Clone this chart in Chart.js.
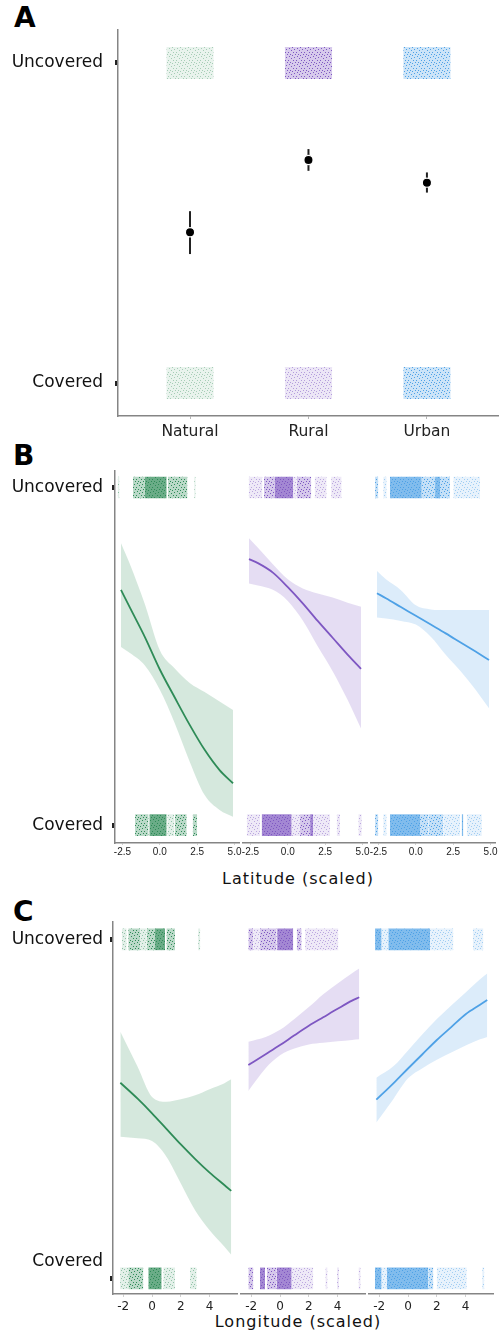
<!DOCTYPE html>
<html>
<head>
<meta charset="utf-8">
<script src="https://cdn.jsdelivr.net/npm/chart.js@4.4.1/dist/chart.umd.min.js"></script>
<style>
  html, body { margin: 0; background: #fff; }
  body { position: relative; width: 504px; height: 1333px; overflow: hidden; font-family: "DejaVu Sans", sans-serif; }
  canvas { position: absolute; }
  .tag { position: absolute; font: bold 28px/1 "DejaVu Sans", sans-serif; color: #000; }
  .title { position: absolute; font: 16px/1 "DejaVu Sans", sans-serif; letter-spacing: 1px; color: #111; white-space: nowrap; transform: translateX(-50%); }
</style>
</head>
<body>
<div class="tag" style="left:14px;top:4px">A</div>
<div class="tag" style="left:13px;top:442px">B</div>
<div class="tag" style="left:13px;top:898px">C</div>
<div class="title" style="left:298px;top:871px">Latitude (scaled)</div>
<div class="title" style="left:298px;top:1314px">Longitude (scaled)</div>
<script>
// ---- data ----
const habitats = ["Natural", "Rural", "Urban"];
const outcomes = ["Covered", "Uncovered"]; // outcome 0 / 1

// panel A: model estimate and interval per habitat
const coverEst = [0.471, 0.697, 0.626];
const coverLo = [0.403, 0.663, 0.595];
const coverHi = [0.537, 0.731, 0.658];
// how dense each jittered cloud looks (uncovered row, covered row)
const cloudTop = [0.19, 0.57, 0.53];
const cloudBottom = [0.19, 0.27, 0.53];

// panel B: latitude
const latX = [-2.6, -2, -1, 0, 1, 2, 3, 4, 4.9];
const latFitNatural = [0.697, 0.644, 0.557, 0.461, 0.378, 0.297, 0.223, 0.163, 0.124];
const latLowNatural = [0.528, 0.510, 0.473, 0.401, 0.302, 0.188, 0.089, 0.045, 0.025];
const latHighNatural = [0.835, 0.773, 0.654, 0.518, 0.464, 0.421, 0.394, 0.366, 0.341];
const latFitRural = [0.788, 0.776, 0.748, 0.705, 0.657, 0.605, 0.555, 0.505, 0.463];
const latLowRural = [0.716, 0.710, 0.697, 0.664, 0.606, 0.530, 0.456, 0.371, 0.286];
const latHighRural = [0.850, 0.822, 0.773, 0.728, 0.701, 0.686, 0.674, 0.659, 0.647];
const latFitUrban = [0.687, 0.672, 0.646, 0.620, 0.594, 0.568, 0.541, 0.514, 0.489];
const latLowUrban = [0.615, 0.612, 0.605, 0.594, 0.558, 0.505, 0.456, 0.401, 0.346];
const latHighUrban = [0.753, 0.728, 0.696, 0.651, 0.639, 0.637, 0.637, 0.637, 0.637];

// rug clouds: [from, to, density 1..3]; "1" = uncovered row, "0" = covered row
const latRugNatural1 = [[-2.82, -2.7, 1], [-1.8, -1.0, 2], [-1.0, 0.46, 3], [0.55, 1.85, 2], [2.3, 2.4, 1]];
const latRugNatural0 = [[-1.66, -0.75, 2], [-0.7, 0.46, 3], [0.5, 0.95, 1], [1.0, 1.8, 2], [2.2, 2.5, 2]];
const latRugRural1 = [[-2.62, -1.7, 1], [-1.6, -0.9, 2], [-0.9, 0.37, 3], [0.37, 0.6, 1], [0.6, 1.57, 2], [1.8, 2.6, 1], [2.9, 3.6, 1]];
const latRugRural0 = [[-2.75, -1.86, 1], [-1.75, 0.26, 3], [0.26, 0.82, 1], [0.82, 1.49, 2], [1.49, 1.71, 3], [1.71, 2.83, 1], [3.27, 3.5, 1], [4.72, 4.95, 1]];
const latRugUrban1 = [[-2.73, -2.51, 2], [-2.18, -1.95, 1], [-1.73, 0.4, 3], [0.4, 1.29, 2], [1.29, 1.62, 3], [1.62, 2.29, 2], [2.51, 4.3, 1]];
const latRugUrban0 = [[-2.73, -2.51, 2], [-2.18, -1.95, 1], [-1.73, 0.28, 3], [0.28, 0.84, 2], [0.84, 1.84, 2], [1.84, 2.96, 1], [3.07, 3.18, 3], [3.41, 4.42, 1]];

// panel C: longitude
const lonX = [-2.2, -1, 0, 1, 2, 3, 4, 5, 5.5];
const lonFitNatural = [0.577, 0.53, 0.487, 0.441, 0.395, 0.352, 0.312, 0.276, 0.258];
const lonLowNatural = [0.418, 0.413, 0.405, 0.359, 0.28, 0.2, 0.142, 0.095, 0.07];
const lonHighNatural = [0.727, 0.624, 0.535, 0.521, 0.528, 0.54, 0.558, 0.575, 0.587];
const lonFitRural = [0.629, 0.661, 0.688, 0.717, 0.745, 0.77, 0.795, 0.819, 0.829];
const lonLowRural = [0.553, 0.62, 0.658, 0.678, 0.69, 0.695, 0.699, 0.703, 0.705];
const lonHighRural = [0.698, 0.712, 0.733, 0.765, 0.8, 0.838, 0.87, 0.9, 0.914];
const lonFitUrban = [0.527, 0.576, 0.619, 0.661, 0.703, 0.741, 0.779, 0.807, 0.821];
const lonLowUrban = [0.46, 0.53, 0.59, 0.62, 0.645, 0.666, 0.687, 0.705, 0.712];
const lonHighUrban = [0.592, 0.626, 0.672, 0.72, 0.765, 0.805, 0.843, 0.882, 0.899];

const lonRugNatural1 = [[-2.1, -1.76, 1], [-1.65, -0.83, 2], [-0.83, -0.37, 1], [-0.37, 0.21, 2], [0.21, 0.9, 3], [1.0, 1.6, 2], [3.2, 3.35, 1]];
const lonRugNatural0 = [[-2.22, -1.65, 1], [-1.65, -0.6, 2], [-0.26, 0.67, 3], [0.78, 1.6, 1], [2.64, 3.1, 1]];
const lonRugRural1 = [[-2.2, -1.85, 2], [-1.85, -1.4, 1], [-1.39, -0.23, 2], [-0.2, 0.92, 3], [1.16, 1.5, 2], [1.74, 4.05, 1]];
const lonRugRural0 = [[-2.2, -1.85, 2], [-1.39, -1.04, 3], [-0.92, -0.23, 2], [-0.23, 0.81, 3], [0.81, 2.31, 1], [3.15, 3.3, 1], [3.95, 4.1, 1], [5.45, 5.6, 1]];
const lonRugUrban1 = [[-2.29, -1.83, 3], [-1.83, -1.37, 1], [-1.37, 1.53, 3], [1.53, 3.15, 1], [4.5, 5.23, 1]];
const lonRugUrban0 = [[-2.3, -1.83, 3], [-1.83, -1.48, 1], [-1.48, 1.41, 3], [1.41, 1.76, 2], [1.99, 4.08, 1], [5.15, 5.3, 1]];

// ---- styling ----
const RGB = { Natural: "46,139,87", Rural: "126,87,194", Urban: "78,161,230" };
const AXIS_GREY = "#858585";
const RUG_ALPHA = [0, 0.24, 0.6, 1.3];
const RUG_HALF = 0.032;
const CLOUD_HALF_W = 0.2;
const CLOUD_HALF_H = 0.05;
const TILE = 8;
const SPECKS = [[1, 0], [6, 1], [3, 2], [0, 4], [5, 4], [2, 6], [7, 6], [4, 7]];

Chart.defaults.font.family = "'DejaVu Sans', sans-serif";

function texture(ctx, rgb, a) {
  const tile = document.createElement("canvas");
  tile.width = tile.height = TILE;
  const g = tile.getContext("2d");
  g.fillStyle = `rgba(${rgb},${Math.min(1, a * 0.55)})`;
  g.fillRect(0, 0, TILE, TILE);
  g.fillStyle = `rgba(${rgb},${Math.min(1, a * 1.9)})`;
  SPECKS.forEach(([x, y]) => g.fillRect(x, y, 1, 1));
  return ctx.createPattern(tile, "repeat");
}

function outcomeTicks(coveredShift) {
  if (!coveredShift) {
    return outcomes.map((label, v) => ({ value: v, label, mark: true }));
  }
  return [
    { value: 0, label: "", mark: true },
    { value: coveredShift, label: outcomes[0], mark: false },
    { value: 1, label: outcomes[1], mark: true },
  ];
}

function panel(opt) {
  const a = opt.area;
  const s = opt.space;
  const cv = document.createElement("canvas");
  cv.width = a.r - a.l + s.l + s.r;
  cv.height = a.b - a.t + s.t + s.b;
  cv.style.left = a.l - s.l + "px";
  cv.style.top = a.t - s.t + "px";
  document.body.appendChild(cv);
  const ctx = cv.getContext("2d");
  const yTicks = opt.yTicks;

  new Chart(cv, {
    type: "line",
    data: { datasets: opt.build(ctx) },
    options: {
      responsive: false,
      animation: false,
      events: [],
      layout: { padding: { left: yTicks ? 0 : s.l, right: s.r, top: s.t, bottom: 0 } },
      plugins: { legend: { display: false }, tooltip: { enabled: false } },
      scales: {
        x: {
          type: "linear",
          min: opt.x.min,
          max: opt.x.max,
          afterFit(sc) { sc.height = s.b; },
          afterBuildTicks(sc) { sc.ticks = opt.x.ticks.map((v) => ({ value: v })); },
          ticks: {
            callback: opt.x.format,
            font: opt.x.font,
            color: "#222",
            padding: opt.x.pad,
            maxRotation: 0,
            autoSkip: false,
          },
          grid: { drawOnChartArea: false, tickLength: opt.x.tick, tickColor: opt.x.tickColor },
          border: { color: AXIS_GREY, width: 1.5 },
        },
        y: {
          type: "linear",
          min: opt.y.min,
          max: opt.y.max,
          display: !!yTicks,
          afterFit(sc) { if (yTicks) sc.width = s.l; },
          afterBuildTicks(sc) { if (yTicks) sc.ticks = yTicks.map((t) => ({ value: t.value })); },
          ticks: {
            callback: (v, i) => (yTicks ? yTicks[i].label : ""),
            font: { size: 17 },
            color: "#111",
            padding: opt.y.pad,
            autoSkip: false,
          },
          grid: {
            drawOnChartArea: false,
            tickLength: 3,
            tickWidth: 5,
            tickColor: (c) => (yTicks && yTicks[c.index] && yTicks[c.index].mark ? "#222" : "rgba(0,0,0,0)"),
          },
          border: { color: AXIS_GREY, width: 1.5 },
        },
      },
    },
  });
}

function rugSets(ctx, segs, centre, rgb) {
  return segs.map(([x0, x1, lvl]) => ({
    data: [{ x: x0, y: centre + RUG_HALF }, { x: x1, y: centre + RUG_HALF }],
    borderColor: "rgba(0,0,0,0)",
    borderWidth: 0,
    pointRadius: 0,
    backgroundColor: texture(ctx, rgb, RUG_ALPHA[lvl]),
    fill: { value: centre - RUG_HALF },
    order: 3,
  }));
}

function curveSets(xs, fit, low, high, rgb) {
  const pts = (ys) => xs.map((x, i) => ({ x, y: ys[i] }));
  return [
    { data: pts(fit), borderColor: `rgb(${rgb})`, borderWidth: 1.8, pointRadius: 0, fill: false, cubicInterpolationMode: "monotone", order: 0 },
    { data: pts(high), borderColor: "rgba(0,0,0,0)", borderWidth: 0, pointRadius: 0, backgroundColor: `rgba(${rgb},0.2)`, fill: "+1", cubicInterpolationMode: "monotone", order: 1 },
    { data: pts(low), borderColor: "rgba(0,0,0,0)", borderWidth: 0, pointRadius: 0, fill: false, cubicInterpolationMode: "monotone", order: 2 },
  ];
}

// ---- panel A ----
panel({
  area: { l: 118, t: 30, r: 498, b: 416 },
  space: { l: 118, r: 6, t: 30, b: 34 },
  x: {
    min: -0.608, max: 2.6, ticks: [0, 1, 2],
    format: (v) => habitats[v] || "",
    font: { size: 15.5 }, pad: 4, tick: 3, tickColor: "#b5b5b5",
  },
  y: { min: -0.103, max: 1.103, pad: 12 },
  yTicks: outcomeTicks(0),
  build: (ctx) => {
    const sets = [];
    habitats.forEach((h, i) => {
      [[1, cloudTop[i]], [0, cloudBottom[i]]].forEach(([o, dens]) => {
        sets.push({
          data: [{ x: i - CLOUD_HALF_W, y: o + CLOUD_HALF_H }, { x: i + CLOUD_HALF_W, y: o + CLOUD_HALF_H }],
          borderColor: "rgba(0,0,0,0)", borderWidth: 0, pointRadius: 0,
          backgroundColor: texture(ctx, RGB[h], dens),
          fill: { value: o - CLOUD_HALF_H },
          order: 3,
        });
      });
      sets.push({
        data: [{ x: i, y: coverLo[i] }, { x: i, y: coverHi[i] }],
        borderColor: "#222", borderWidth: 2, pointRadius: 0, fill: false, order: 1,
      });
    });
    sets.push({
      data: coverEst.map((y, i) => ({ x: i, y })),
      showLine: false, pointRadius: 4.6, pointBackgroundColor: "#000",
      pointBorderColor: "#fff", pointBorderWidth: 1.2, order: 0,
    });
    return sets;
  },
});

// ---- panels B and C ----
const latAxis = {
  min: -3.0, max: 5.3, ticks: [-2.5, 0, 2.5, 5],
  format: (v) => Number(v).toFixed(1),
  font: { family: "'Liberation Sans', sans-serif", size: 10 }, pad: 1, tick: 2, tickColor: "#d0d0d0",
};
const lonAxis = {
  min: -2.71, max: 5.9, ticks: [-2, 0, 2, 4],
  format: (v) => String(v),
  font: { size: 12 }, pad: 3, tick: 3, tickColor: "#d0d0d0",
};

const latPanels = [
  ["Natural", latFitNatural, latLowNatural, latHighNatural, latRugNatural1, latRugNatural0],
  ["Rural", latFitRural, latLowRural, latHighRural, latRugRural1, latRugRural0],
  ["Urban", latFitUrban, latLowUrban, latHighUrban, latRugUrban1, latRugUrban0],
];
const lonPanels = [
  ["Natural", lonFitNatural, lonLowNatural, lonHighNatural, lonRugNatural1, lonRugNatural0],
  ["Rural", lonFitRural, lonLowRural, lonHighRural, lonRugRural1, lonRugRural0],
  ["Urban", lonFitUrban, lonLowUrban, lonHighUrban, lonRugUrban1, lonRugUrban0],
];

const latLeft = [115, 243, 371];
latPanels.forEach(([h, fit, lo, hi, rug1, rug0], k) => {
  panel({
    area: { l: latLeft[k], t: 471, r: latLeft[k] + 124, b: 843 },
    space: { l: k === 0 ? 115 : 16, r: 12, t: 20, b: 28 },
    x: latAxis,
    y: { min: -0.053, max: 1.049, pad: 9 },
    yTicks: k === 0 ? outcomeTicks(0) : null,
    build: (ctx) => [
      ...curveSets(latX, fit, lo, hi, RGB[h]),
      ...rugSets(ctx, rug1, 1, RGB[h]),
      ...rugSets(ctx, rug0, 0, RGB[h]),
    ],
  });
});

const lonLeft = [113, 241, 369];
lonPanels.forEach(([h, fit, lo, hi, rug1, rug0], k) => {
  panel({
    area: { l: lonLeft[k], t: 922, r: lonLeft[k] + 124, b: 1294 },
    space: { l: k === 0 ? 113 : 16, r: 12, t: 20, b: 30 },
    x: lonAxis,
    y: { min: -0.046, max: 1.051, pad: 7 },
    yTicks: k === 0 ? outcomeTicks(0.049) : null,
    build: (ctx) => [
      ...curveSets(lonX, fit, lo, hi, RGB[h]),
      ...rugSets(ctx, rug1, 1, RGB[h]),
      ...rugSets(ctx, rug0, 0, RGB[h]),
    ],
  });
});
</script>
</body>
</html>
